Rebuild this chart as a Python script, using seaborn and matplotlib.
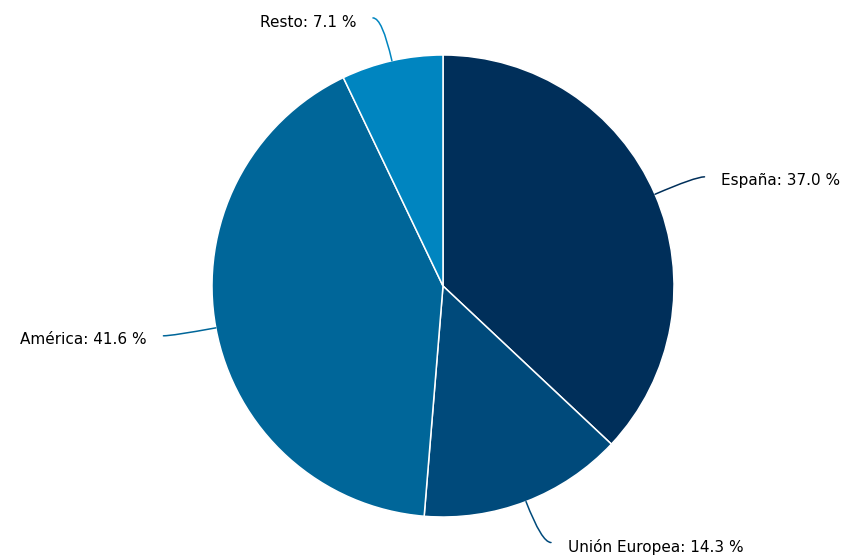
import numpy as np
import matplotlib
matplotlib.use("Agg")
import matplotlib.pyplot as plt
import seaborn as sns

# datos
regiones = ["España", "Unión Europea", "América", "Resto"]
porcentajes = [37.0, 14.3, 41.6, 7.1]
colores = ["#002f5a", "#004a7b", "#006699", "#0085c0"]

sns.set_theme(style="white")
plt.rcParams["font.family"] = ["DejaVu Sans"]

W, H = 846, 557
cx, cy, R = 443, 286, 231  # centro y radio en pixeles

fig = plt.figure(figsize=(W / 100, H / 100), dpi=100)
ax = fig.add_axes([0, 0, 1, 1])

wedges, _ = ax.pie(porcentajes, colors=sns.color_palette(colores), startangle=90,
                   counterclock=False,
                   wedgeprops=dict(edgecolor="white", linewidth=1.1))
ax.set_xlim(-cx / R, (W - cx) / R)
ax.set_ylim(-(H - cy) / R, cy / R)
ax.set_aspect("equal")
ax.axis("off")

# etiquetas con conectores curvos
for w, nombre, pct, col in zip(wedges, regiones, porcentajes, colores):
    ang = np.deg2rad((w.theta1 + w.theta2) / 2)
    x0, y0 = np.cos(ang), np.sin(ang)
    lado = 1 if x0 >= 0 else -1
    # extremo del conector: un poco mas alla del radio y desplazado en horizontal
    x1, y1 = 1.19 * x0 + lado * 0.04, 1.19 * y0
    ax.annotate("", xy=(x0, y0), xytext=(x1, y1),
                arrowprops=dict(arrowstyle="-", color=col, lw=1.1,
                                shrinkA=0, shrinkB=0,
                                connectionstyle=f"angle3,angleA=0,angleB={np.rad2deg(ang):.1f}"))
    ax.annotate(f"{nombre}: {pct:.1f} %", xy=(x1, y1), xytext=(lado * 12, -3),
                textcoords="offset points", ha="left" if lado > 0 else "right",
                va="center", fontsize=11, color="black")

fig.savefig("out.png", dpi=100)
